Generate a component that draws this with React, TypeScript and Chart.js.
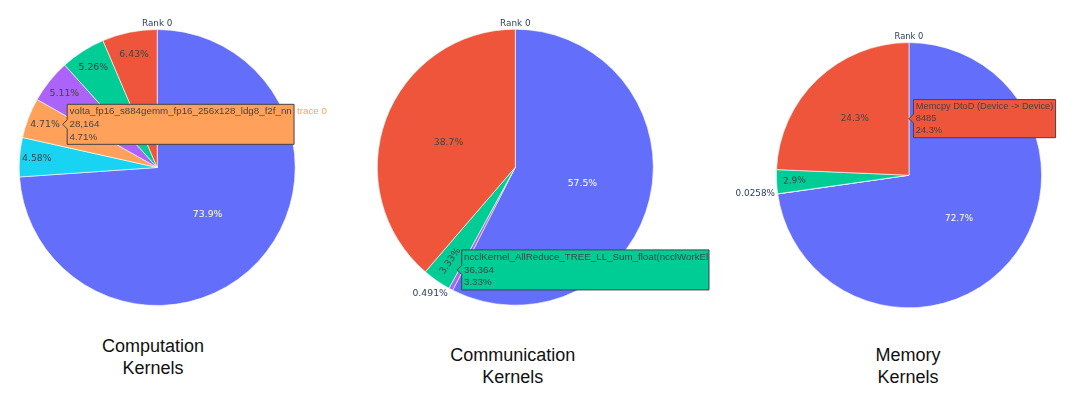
import React, { useEffect, useRef } from 'react';
import { Chart, ArcElement, PieController } from 'chart.js';

Chart.register(ArcElement, PieController);

// ---------------- data ----------------
const BLUE = '#636efa';
const RED = '#EF553B';
const GREEN = '#00cc96';
const PURPLE = '#ab63fa';
const ORANGE = '#FFA15A';
const CYAN = '#19d3f3';

// Computation kernels (clockwise from 12 o'clock)
const computationLabels = [
  'computation kernel 1',
  'computation kernel 6',
  'volta_fp16_s884gemm_fp16_256x128_ldg8_f2f_nn',
  'computation kernel 4',
  'computation kernel 3',
  'computation kernel 2',
];
const computationValues = [441922, 27388, 28164, 30558, 31455, 38451];
const computationColors = [BLUE, CYAN, ORANGE, PURPLE, GREEN, RED];

// Communication kernels
const communicationLabels = [
  'communication kernel 1',
  'communication kernel 4',
  'ncclKernel_AllReduce_TREE_LL_Sum_float(ncclWorkElem)',
  'communication kernel 2',
];
const communicationValues = [627907, 5362, 36364, 422609];
const communicationColors = [BLUE, PURPLE, GREEN, RED];

// Memory kernels
const memoryLabels = [
  'memory op 1',
  'memory op 4',
  'memory op 3',
  'Memcpy DtoD (Device -> Device)',
];
const memoryValues = [25368, 9, 1013, 8485];
const memoryColors = [BLUE, PURPLE, GREEN, RED];

const captionLines = [
  ['Computation', 'Kernels'],
  ['Communication', 'Kernels'],
  ['Memory', 'Kernels'],
];

// ---------------- layout / style ----------------
type PieSpec = {
  labels: string[];
  values: number[];
  colors: string[];
  hoverIndex: number;
  traceName: string;
  title: string;
  left: number;
  top: number;
  width: number;
  height: number;
  cx: number; // relative to canvas
  cy: number;
  r: number;
  scale: number;
};

const BW = 0.6;

const pies: PieSpec[] = [
  {
    labels: computationLabels, values: computationValues, colors: computationColors,
    hoverIndex: 2, traceName: 'trace 0', title: 'Rank 0',
    left: 0, top: 0, width: 360, height: 320, cx: 157.2, cy: 167.5, r: 138, scale: 1,
  },
  {
    labels: communicationLabels, values: communicationValues, colors: communicationColors,
    hoverIndex: 2, traceName: 'trace 0', title: 'Rank 0',
    left: 360, top: 0, width: 350, height: 320, cx: 155.3, cy: 167.2, r: 138, scale: 1,
  },
  {
    labels: memoryLabels, values: memoryValues, colors: memoryColors,
    hoverIndex: 3, traceName: 'trace 0', title: 'Rank 0',
    left: 720, top: 0, width: 338, height: 320, cx: 189, cy: 175.2, r: 132.6, scale: 0.95,
  },
];

const captions = [
  { x: 153, top: 335.3 },
  { x: 512.7, top: 343.5 },
  { x: 908, top: 343.5 },
];

// ---------------- helpers ----------------
function fmtPct(f: number): string {
  let s = (f * 100).toPrecision(3);
  if (s.indexOf('.') !== -1) s = s.replace(/\.?0+$/, '');
  return s + '%';
}
function fmtValue(v: number): string {
  const s = String(Math.round(v));
  if (s.length <= 4) return s;
  return s.replace(/\B(?=(\d{3})+(?!\d))/g, ',');
}
function isLight(hex: string): boolean {
  const h = hex.replace('#', '');
  const r = parseInt(h.slice(0, 2), 16);
  const g = parseInt(h.slice(2, 4), 16);
  const b = parseInt(h.slice(4, 6), 16);
  return (r * 299 + g * 587 + b * 114) / 1000 >= 128;
}
function maxHalf(a: number, halfAngle: number, r: number): number {
  const q = a + 1 / (2 * Math.tan(halfAngle));
  return r * Math.min(1 / (Math.sqrt(q * q + 0.5) + q), 1 / (Math.sqrt(a * a + 0.5) + a));
}
function normRot(t: number): number {
  let d = (t * 180) / Math.PI;
  while (d > 90) d -= 180;
  while (d <= -90) d += 180;
  return (d * Math.PI) / 180;
}

function makeDecor(spec: PieSpec) {
  return {
    id: 'plotlyDecor',
    afterDraw(chart: any) {
      const ctx: CanvasRenderingContext2D = chart.ctx;
      const arcs = chart.getDatasetMeta(0).data as any[];
      const vals = chart.data.datasets[0].data as number[];
      const cols = chart.data.datasets[0].backgroundColor as string[];
      const labels = chart.data.labels as string[];
      const total = vals.reduce((a, b) => a + b, 0);
      const sc = spec.scale;
      const fs = 9.3 * sc;
      const labelFont = `${fs}px "DejaVu Sans", Verdana, sans-serif`;
      const titleFont = `${8.8 * sc}px "DejaVu Sans", Verdana, sans-serif`;
      const pad = 2.25;
      const cx = arcs[0].x;
      const cy = arcs[0].y;
      const R = arcs[0].outerRadius;

      ctx.save();
      // title
      ctx.font = titleFont;
      ctx.fillStyle = '#2a3f5f';
      ctx.textAlign = 'center';
      ctx.textBaseline = 'middle';
      ctx.fillText(spec.title, cx, cy - R - 5.5);

      // slice labels
      arcs.forEach((arc, i) => {
        const f = vals[i] / total;
        const txt = fmtPct(f);
        ctx.font = labelFont;
        const w = ctx.measureText(txt).width;
        const h = fs * 1.28;
        const mid = (arc.startAngle + arc.endAngle) / 2;
        const ux = Math.cos(mid);
        const uy = Math.sin(mid);
        const half = Math.PI * Math.min(f, 0.5);
        const rIns = Math.min(1 / (1 + 1 / Math.sin(half)), 0.5);
        const diag = Math.hypot(w, h);
        let tr: { scale: number; d: number; rot: number } = {
          scale: (rIns * R * 2) / diag, d: R * (1 - rIns), rot: 0,
        };
        if (tr.scale < 1) {
          const rr = Math.max(0, R - 2 * pad);
          const aT = h / w;
          const sT = maxHalf(aT, half, rr);
          const tT = { scale: (sT * 2) / w, d: R * (Math.cos(sT / rr) - (aT * sT) / rr), rot: normRot(mid + Math.PI / 2) };
          const aR = w / h;
          const sR = maxHalf(aR, half, rr);
          const tR = { scale: (sR * 2) / h, d: R * (Math.cos(sR / rr) - (aR * sR) / rr), rot: normRot(mid) };
          for (const t of [tr, tT, tR]) if (t.scale > tr.scale) tr = t;
        }
        if (tr.scale >= 1) {
          ctx.save();
          ctx.translate(cx + ux * tr.d, cy + uy * tr.d);
          ctx.rotate(tr.rot);
          ctx.fillStyle = isLight(cols[i]) ? '#444' : '#fff';
          ctx.textAlign = 'center';
          ctx.textBaseline = 'middle';
          ctx.fillText(txt, 0, 0);
          ctx.restore();
        } else {
          const px = ux * R;
          const py = uy * R;
          let dx = w / 2;
          let dy = h / 2;
          if (px < 0) dx *= -1;
          if (py < 0) dy *= -1;
          const ox = dx + (Math.abs(dy) * (dx > 0 ? 1 : -1)) / 2;
          const oy = dy / (1 + (px * px) / (py * py || 1e-9));
          ctx.fillStyle = '#2a3f5f';
          ctx.textAlign = 'center';
          ctx.textBaseline = 'middle';
          ctx.fillText(txt, cx + px + ox, cy + py + oy);
        }
      });

      // hover label
      const hi = spec.hoverIndex;
      const arc = arcs[hi];
      const f = vals[hi] / total;
      const half = Math.PI * Math.min(f, 0.5);
      const rIns = Math.min(1 / (1 + 1 / Math.sin(half)), 0.5);
      const mid = (arc.startAngle + arc.endAngle) / 2;
      const hcx = cx + Math.cos(mid) * R * (1 - rIns);
      const hcy = cy + Math.sin(mid) * R * (1 - rIns);
      const tipX = hcx + rIns * R;
      const tipY = hcy;
      const hf = 9.75 * sc;
      const lineH = hf * 1.3;
      const lines = [labels[hi], fmtValue(vals[hi]), fmtPct(f)];
      ctx.font = `${hf}px "Liberation Sans", Arial, sans-serif`;
      const tw = Math.max(...lines.map((l) => ctx.measureText(l).width));
      const arrow = 4.5;
      const hpad = 2.3;
      const bx = tipX + arrow;
      const bh = lines.length * lineH + 2;
      const fullRight = bx + tw + 2 * hpad;
      const right = Math.min(fullRight, chart.width - 1);
      const top = tipY - bh / 2;
      const bottom = tipY + bh / 2;
      ctx.beginPath();
      ctx.moveTo(tipX, tipY);
      ctx.lineTo(bx, tipY - arrow);
      ctx.lineTo(bx, top);
      ctx.lineTo(right, top);
      ctx.lineTo(right, bottom);
      ctx.lineTo(bx, bottom);
      ctx.lineTo(bx, tipY + arrow);
      ctx.closePath();
      ctx.fillStyle = cols[hi];
      ctx.fill();
      ctx.strokeStyle = '#444';
      ctx.lineWidth = 1;
      ctx.stroke();
      ctx.save();
      ctx.beginPath();
      ctx.rect(bx, top, right - bx, bh);
      ctx.clip();
      ctx.fillStyle = '#444';
      ctx.textAlign = 'left';
      ctx.textBaseline = 'middle';
      lines.forEach((l, k) => {
        ctx.fillText(l, bx + hpad, tipY + (k - 1) * lineH);
      });
      ctx.restore();
      ctx.fillStyle = cols[hi];
      ctx.textAlign = 'left';
      ctx.textBaseline = 'middle';
      ctx.fillText(spec.traceName, fullRight + 3, tipY - lineH);
      ctx.restore();
    },
  };
}

function PieCanvas({ spec }: { spec: PieSpec }) {
  const ref = useRef<HTMLCanvasElement>(null);
  useEffect(() => {
    const c = ref.current!;
    const padLeft = spec.cx - spec.r - BW / 2;
    const padRight = spec.width - (spec.cx + spec.r + BW / 2);
    const padTop = spec.cy - spec.r - BW / 2;
    const padBottom = spec.height - (spec.cy + spec.r + BW / 2);
    const chart = new Chart(c, {
      type: 'pie',
      data: {
        labels: spec.labels,
        datasets: [
          {
            data: spec.values,
            backgroundColor: spec.colors,
            borderColor: '#ffffff',
            borderWidth: BW,
          },
        ],
      },
      options: {
        responsive: false,
        maintainAspectRatio: false,
        animation: false,
        events: [],
        layout: { padding: { left: padLeft, right: padRight, top: padTop, bottom: padBottom } },
        plugins: {
          legend: { display: false },
          tooltip: { enabled: false },
          title: { display: false },
        },
      } as any,
      plugins: [makeDecor(spec) as any],
    });
    return () => chart.destroy();
  }, []);
  return (
    <canvas
      ref={ref}
      width={spec.width}
      height={spec.height}
      style={{ position: 'absolute', left: spec.left, top: spec.top, width: spec.width, height: spec.height }}
    />
  );
}

export default function App() {
  return (
    <div
      style={{
        position: 'absolute',
        left: 0,
        top: 0,
        width: 1076,
        height: 399,
        background: '#ffffff',
        overflow: 'hidden',
      }}
    >
      {pies.map((p, i) => (
        <PieCanvas key={i} spec={p} />
      ))}
      {captions.map((c, i) => (
        <div
          key={'cap' + i}
          style={{
            position: 'absolute',
            left: c.x - 110,
            top: c.top,
            width: 220,
            textAlign: 'center',
            fontFamily: '"Liberation Sans", Arial, sans-serif',
            fontSize: 18,
            lineHeight: '22px',
            color: '#111',
          }}
        >
          {captionLines[i][0]}
          <br />
          {captionLines[i][1]}
        </div>
      ))}
    </div>
  );
}
